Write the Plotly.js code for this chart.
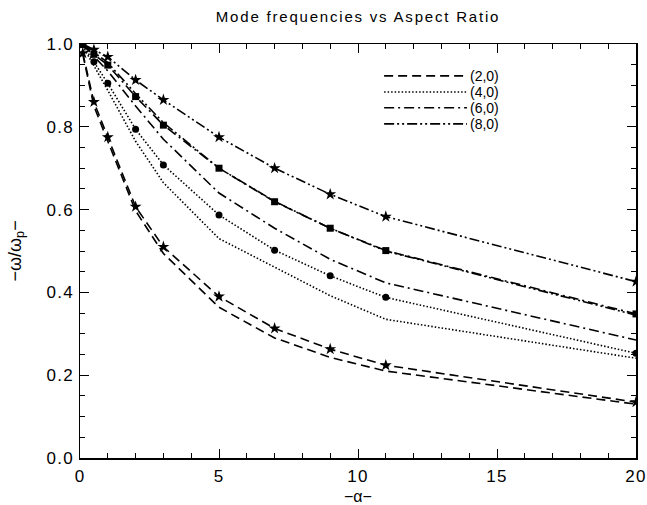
<!DOCTYPE html>
<html>
<head>
<meta charset="utf-8">
<script src="https://cdn.plot.ly/plotly-3.0.1.min.js"></script>
<style>
html,body{margin:0;padding:0;background:#fff;}
#chart{width:647px;height:505px;}
#chart .gtitle{letter-spacing:1.8px;}
#chart .xtick text,#chart .ytick text{letter-spacing:1.3px;}
</style>
</head>
<body>
<div id="chart"></div>
<script>
// aspect ratio values
const alpha = [0.1, 0.5, 1, 2, 3, 5, 7, 9, 11, 20];
// mode labels
const modeNames = ["(2,0)", "(4,0)", "(6,0)", "(8,0)"];
// curves with markers
const m20a = [0.978, 0.86, 0.775, 0.607, 0.51, 0.39, 0.313, 0.263, 0.224, 0.135];
const m40a = [0.998, 0.957, 0.905, 0.794, 0.708, 0.587, 0.502, 0.44, 0.388, 0.253];
const m60a = [1.0, 0.975, 0.949, 0.873, 0.804, 0.70, 0.619, 0.555, 0.501, 0.348];
const m80a = [1.0, 0.986, 0.969, 0.913, 0.865, 0.775, 0.70, 0.637, 0.583, 0.426];
// curves without markers
const m20b = [0.975, 0.85, 0.765, 0.597, 0.494, 0.364, 0.29, 0.243, 0.21, 0.13];
const m40b = [0.995, 0.948, 0.888, 0.765, 0.665, 0.53, 0.46, 0.392, 0.335, 0.241];
const m60b = [0.998, 0.97, 0.935, 0.85, 0.77, 0.64, 0.555, 0.48, 0.423, 0.285];
const m80b = [1.0, 0.98, 0.955, 0.88, 0.81, 0.70, 0.62, 0.555, 0.50, 0.345];
// texts
const titleText = 'Mode frequencies vs Aspect Ratio';
const xTitle = '\u2212\u03b1\u2212';
const yTitle = '\u2212\u03c9/\u03c9<sub>p</sub>\u2212';

const dashes = ["9px,5px", "1.5px,2px", "10px,4px,2px,4px", "10px,3px,2px,3px,2px,3px"];
const symbols = ["star", "circle", "square", "star"];
const msizes = [9, 7, 7, 9];

const withMarkers = [m20a, m40a, m60a, m80a];
const noMarkers = [m20b, m40b, m60b, m80b];

const traces = [];
for (let i = 0; i < 4; i++) {
  traces.push({
    x: alpha, y: noMarkers[i], mode: 'lines', name: modeNames[i],
    line: {color: '#000', width: 1.6, dash: dashes[i]}, showlegend: false
  });
  traces.push({
    x: alpha, y: withMarkers[i], mode: 'lines+markers', name: modeNames[i],
    line: {color: '#000', width: 1.6, dash: dashes[i]},
    marker: {symbol: symbols[i], size: msizes[i], color: '#000'}, showlegend: false
  });
}

const FONT = 'Liberation Sans, Arial, sans-serif';

// legend drawn as line samples + labels
const legY = [0.923, 0.884, 0.846, 0.807];
const shapes = [];
const annotations = [];
for (let i = 0; i < 4; i++) {
  shapes.push({type: 'line', xref: 'paper', yref: 'paper', x0: 0.547, x1: 0.696, y0: legY[i], y1: legY[i],
    line: {color: '#000', width: 1.6, dash: dashes[i]}});
  annotations.push({xref: 'paper', yref: 'paper', x: 0.697, y: legY[i], xanchor: 'left', yanchor: 'middle',
    text: modeNames[i], showarrow: false, font: {family: FONT, size: 14, color: '#000'}});
}
annotations.push({xref: 'paper', yref: 'paper', x: 0.5, y: -0.0935, xanchor: 'center', yanchor: 'middle',
  text: xTitle, showarrow: false, font: {family: FONT, size: 16, color: '#000'}});
annotations.push({xref: 'paper', yref: 'paper', x: -0.1160, y: 0.5, xanchor: 'center', yanchor: 'middle',
  textangle: -90, text: yTitle, showarrow: false, font: {family: FONT, size: 18, color: '#000'}});

const axisCommon = {
  showgrid: false, zeroline: false, showline: true, linecolor: '#000', linewidth: 1.5,
  mirror: 'ticks', ticks: 'inside', ticklen: 9, tickwidth: 1, tickcolor: '#000',
  tickfont: {family: FONT, size: 17, color: '#000'},
  minor: {ticks: 'inside', ticklen: 5, tickwidth: 1, tickcolor: '#000', showgrid: false}
};

const layout = {
  width: 647, height: 505,
  margin: {l: 80, r: 11, t: 44, b: 47},
  paper_bgcolor: '#fff', plot_bgcolor: '#fff',
  showlegend: false,
  title: {text: titleText, x: 0.5, xref: 'paper', xanchor: 'center',
    y: 1 - 17 / 505, yref: 'container', yanchor: 'middle',
    font: {family: FONT, size: 15, color: '#000'}},
  xaxis: Object.assign({}, axisCommon, {
    range: [0, 20], tickmode: 'linear', tick0: 0, dtick: 5, ticklabelstandoff: 2,
    minor: Object.assign({}, axisCommon.minor, {dtick: 1})
  }),
  yaxis: Object.assign({}, axisCommon, {
    range: [0, 1], tickmode: 'linear', tick0: 0, dtick: 0.2, tickformat: '.1f', ticklabelstandoff: 1,
    minor: Object.assign({}, axisCommon.minor, {dtick: 0.05})
  }),
  shapes: shapes,
  annotations: annotations
};

Plotly.newPlot('chart', traces, layout, {displayModeBar: false, staticPlot: true});
</script>
</body>
</html>
